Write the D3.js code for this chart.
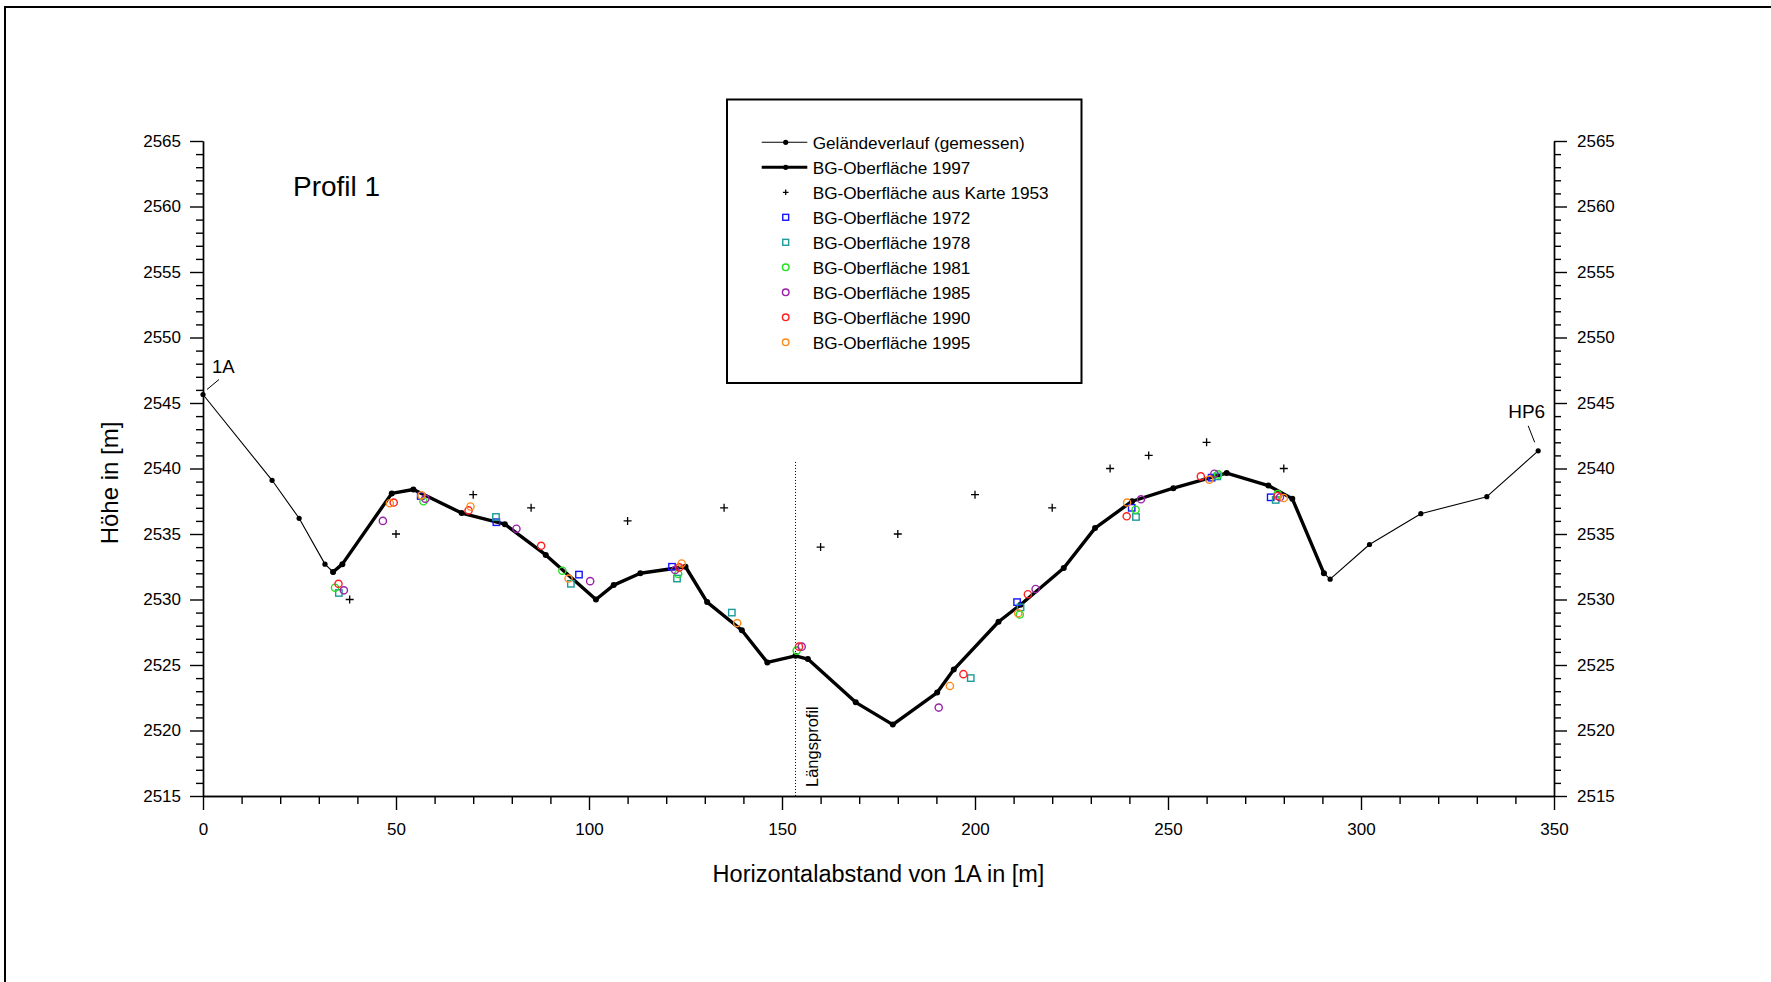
<!DOCTYPE html>
<html>
<head>
<meta charset="utf-8">
<script src="https://cdn.jsdelivr.net/npm/d3@7/dist/d3.min.js"></script>
<style>
  body { margin: 0; background: #fff; }
  svg text { font-family: "Liberation Sans", Arial, sans-serif; fill: #000; }
</style>
</head>
<body>
<svg id="chart"></svg>
<script>
// Geländeverlauf (gemessen), west and east of the glacier
const gelaendeWestX = [0, 17.9, 24.9, 31.6, 33.7];
const gelaendeWestY = [2545.65, 2539.1, 2536.2, 2532.7, 2532.1];
const gelaendeOstX = [290.4, 292.0, 302.2, 315.5, 332.6, 345.9];
const gelaendeOstY = [2532.0, 2531.55, 2534.2, 2536.55, 2537.85, 2541.35];

// BG-Oberfläche 1997
const bg1997X = [33.7, 36.1, 48.9, 54.5, 67.0, 78.2, 88.8, 101.8, 106.4, 113.3, 125.0, 130.6,
  139.6, 146.2, 153.5, 156.7, 169.1, 178.7, 190.2, 194.5, 206.1, 211.8, 223.0, 231.1, 240.7,
  251.4, 265.2, 276.0, 282.2, 290.4];
const bg1997Y = [2532.1, 2532.7, 2538.1, 2538.4, 2536.6, 2535.75, 2533.4, 2530.0, 2531.1, 2532.0,
  2532.5, 2529.8, 2527.65, 2525.2, 2525.7, 2525.45, 2522.15, 2520.45, 2522.9, 2524.65, 2528.3,
  2529.6, 2532.4, 2535.45, 2537.5, 2538.5, 2539.65, 2538.7, 2537.7, 2532.0];

const karte1953X = [38, 50, 70, 85, 110, 135, 160, 180, 200, 220, 235, 245, 260, 280];
const karte1953Y = [2530, 2535, 2538, 2537, 2536, 2537, 2534, 2535, 2538, 2537, 2540, 2541, 2542, 2540];

const bg1972X = [56.4, 76.0, 97.4, 121.5, 210.9, 240.6, 261.3, 276.6];
const bg1972Y = [2537.9, 2535.9, 2531.9, 2532.5, 2529.8, 2537.0, 2539.3, 2537.8];

const bg1978X = [35.2, 75.9, 95.3, 122.8, 137.0, 198.9, 211.8, 241.7, 262.8, 277.9];
const bg1978Y = [2530.5, 2536.3, 2531.2, 2531.6, 2529.0, 2524.0, 2529.4, 2536.3, 2539.4, 2537.6];

const bg1981X = [34.2, 57.1, 93.1, 123.1, 153.8, 211.6, 241.6, 263.0, 278.4];
const bg1981Y = [2530.9, 2537.5, 2532.2, 2531.95, 2526.1, 2528.85, 2536.85, 2539.55, 2538.05];

const bg1985X = [36.5, 46.6, 57.6, 81.2, 100.3, 122.3, 155.1, 190.6, 215.7, 243.0, 262.0, 279.0];
const bg1985Y = [2530.7, 2536.0, 2537.7, 2535.4, 2531.4, 2532.25, 2526.4, 2521.75, 2530.8, 2537.65, 2539.6, 2537.8];

const bg1990X = [35.1, 49.4, 68.8, 87.6, 123.4, 154.4, 197.0, 213.7, 239.3, 258.5, 278.4];
const bg1990Y = [2531.2, 2537.4, 2536.8, 2534.1, 2532.45, 2526.4, 2524.3, 2530.4, 2536.35, 2539.4, 2537.9];

const bg1995X = [48.4, 56.6, 69.3, 94.7, 124.0, 138.4, 193.5, 211.2, 239.4, 260.7, 280.0];
const bg1995Y = [2537.35, 2537.95, 2537.1, 2531.6, 2532.75, 2528.2, 2523.4, 2528.95, 2537.4, 2539.15, 2537.75];

const legendLabels = [
  "Geländeverlauf (gemessen)",
  "BG-Oberfläche 1997",
  "BG-Oberfläche aus Karte 1953",
  "BG-Oberfläche 1972",
  "BG-Oberfläche 1978",
  "BG-Oberfläche 1981",
  "BG-Oberfläche 1985",
  "BG-Oberfläche 1990",
  "BG-Oberfläche 1995"
];

const xTicks = [0, 50, 100, 150, 200, 250, 300, 350];
const yTicks = [2515, 2520, 2525, 2530, 2535, 2540, 2545, 2550, 2555, 2560, 2565];
const xDomain = [0, 350];
const yDomain = [2515, 2565];

// Längsprofil marker line
const laengsprofilX = 153.5;
const laengsprofilTop = 2540.5;

(function() {
  const svgWidth = 1771;
  const svgHeight = 982;
  const margin = { top: 141, right: 217, bottom: 186, left: 203 };

  const svg = d3.select("#chart").attr("width", svgWidth).attr("height", svgHeight);

  const x = d3.scaleLinear().domain(xDomain).range([margin.left, svgWidth - margin.right]);
  const y = d3.scaleLinear().domain(yDomain).range([svgHeight - margin.bottom, margin.top]);

  const zip = (xs, ys) => xs.map((d, i) => ({ x: d, y: ys[i] }));

  // outer frame (right and bottom edges lie outside the picture)
  svg.append("path")
    .attr("d", `M5,${svgHeight + 10}V7H${svgWidth + 10}`)
    .attr("fill", "none").attr("stroke", "#000").attr("stroke-width", 2);

  // axes
  const minorY = d3.range(yDomain[0], yDomain[1] + 1, 1).filter(v => v % 5 !== 0);
  const minorX = d3.range(xDomain[0], xDomain[1] + 1, 10).filter(v => v % 50 !== 0);

  const styleAxis = g => {
    g.selectAll("path, line").attr("stroke", "#000").attr("stroke-width", 1.4);
    g.selectAll("text").attr("font-size", "17px").attr("fill", "#000")
      .style("font-family", "'Liberation Sans', Arial, sans-serif");
  };

  const bottom = svgHeight - margin.bottom;
  const right = svgWidth - margin.right;

  svg.append("g").attr("transform", `translate(0,${bottom})`)
    .call(d3.axisBottom(x).tickValues(xTicks).tickFormat(d3.format("d")).tickSize(14).tickSizeOuter(0).tickPadding(13))
    .call(styleAxis);
  svg.append("g").attr("transform", `translate(0,${bottom})`)
    .call(d3.axisBottom(x).tickValues(minorX).tickFormat("").tickSize(8).tickSizeOuter(0))
    .call(styleAxis);

  svg.append("g").attr("transform", `translate(${margin.left},0)`)
    .call(d3.axisLeft(y).tickValues(yTicks).tickFormat(d3.format("d")).tickSize(13).tickSizeOuter(0).tickPadding(9))
    .call(styleAxis);
  svg.append("g").attr("transform", `translate(${margin.left},0)`)
    .call(d3.axisLeft(y).tickValues(minorY).tickFormat("").tickSize(7).tickSizeOuter(0))
    .call(styleAxis);

  svg.append("g").attr("transform", `translate(${right},0)`)
    .call(d3.axisRight(y).tickValues(yTicks).tickFormat(d3.format("d")).tickSize(13).tickSizeOuter(0).tickPadding(10))
    .call(styleAxis);
  svg.append("g").attr("transform", `translate(${right},0)`)
    .call(d3.axisRight(y).tickValues(minorY).tickFormat("").tickSize(7).tickSizeOuter(0))
    .call(styleAxis);

  // axis titles
  svg.append("text")
    .attr("x", (margin.left + right) / 2).attr("y", 882)
    .attr("text-anchor", "middle").attr("font-size", "23.5px")
    .text("Horizontalabstand von 1A in [m]");

  svg.append("text")
    .attr("transform", "translate(118,483) rotate(-90)")
    .attr("text-anchor", "middle").attr("font-size", "24px")
    .text("Höhe in [m]");

  svg.append("text")
    .attr("x", 293).attr("y", 196)
    .attr("font-size", "28px")
    .text("Profil 1");

  // Längsprofil
  svg.append("line")
    .attr("x1", x(laengsprofilX)).attr("x2", x(laengsprofilX))
    .attr("y1", y(laengsprofilTop)).attr("y2", bottom)
    .attr("stroke", "#000").attr("stroke-width", 1).attr("stroke-dasharray", "1,2");
  svg.append("text")
    .attr("transform", `translate(${x(laengsprofilX) + 22},${bottom - 9}) rotate(-90)`)
    .attr("font-size", "16.5px")
    .text("Längsprofil");

  // lines
  const line = d3.line().x(d => x(d.x)).y(d => y(d.y));

  const drawLine = (data, width, r) => {
    svg.append("path").datum(data)
      .attr("d", line).attr("fill", "none").attr("stroke", "#000")
      .attr("stroke-width", width).attr("stroke-linejoin", "round");
    svg.append("g").selectAll("circle").data(data).enter().append("circle")
      .attr("cx", d => x(d.x)).attr("cy", d => y(d.y)).attr("r", r).attr("fill", "#000");
  };

  const gelaendeWest = zip(gelaendeWestX, gelaendeWestY);
  const gelaendeOst = zip(gelaendeOstX, gelaendeOstY);
  drawLine(gelaendeWest, 1.1, 2.6);
  drawLine(gelaendeOst, 1.1, 2.6);
  drawLine(zip(bg1997X, bg1997Y), 3.4, 3);

  // point labels 1A / HP6
  const p1A = gelaendeWest[0];
  const pHP6 = gelaendeOst[gelaendeOst.length - 1];
  svg.append("line")
    .attr("x1", x(p1A.x) + 4).attr("y1", y(p1A.y) - 5)
    .attr("x2", x(p1A.x) + 16).attr("y2", y(p1A.y) - 15)
    .attr("stroke", "#000").attr("stroke-width", 1);
  svg.append("text")
    .attr("x", x(p1A.x) + 9).attr("y", y(p1A.y) - 21)
    .attr("font-size", "18.5px").text("1A");
  svg.append("line")
    .attr("x1", x(pHP6.x) - 10).attr("y1", y(pHP6.y) - 25)
    .attr("x2", x(pHP6.x) - 3.5).attr("y2", y(pHP6.y) - 8.5)
    .attr("stroke", "#000").attr("stroke-width", 1);
  svg.append("text")
    .attr("x", x(pHP6.x) + 7).attr("y", y(pHP6.y) - 33)
    .attr("text-anchor", "end")
    .attr("font-size", "19px").text("HP6");

  // scatter series
  const series = [
    { label: legendLabels[2], xs: karte1953X, ys: karte1953Y, shape: "plus", color: "#000" },
    { label: legendLabels[3], xs: bg1972X, ys: bg1972Y, shape: "square", color: "#1414ff" },
    { label: legendLabels[4], xs: bg1978X, ys: bg1978Y, shape: "square", color: "#1a9a9a" },
    { label: legendLabels[5], xs: bg1981X, ys: bg1981Y, shape: "circle", color: "#22e022" },
    { label: legendLabels[6], xs: bg1985X, ys: bg1985Y, shape: "circle", color: "#9a22a8" },
    { label: legendLabels[7], xs: bg1990X, ys: bg1990Y, shape: "circle", color: "#ff2020" },
    { label: legendLabels[8], xs: bg1995X, ys: bg1995Y, shape: "circle", color: "#ff8c1a" }
  ];

  function drawMarker(sel, shape, color, scale) {
    if (shape === "plus") {
      const h = 4 * scale;
      sel.append("path").attr("d", `M${-h},0H${h}M0,${-h}V${h}`)
        .attr("stroke", color).attr("stroke-width", 1.3).attr("fill", "none");
    } else if (shape === "square") {
      const h = 3.2 * scale;
      sel.append("rect").attr("x", -h).attr("y", -h).attr("width", 2 * h).attr("height", 2 * h)
        .attr("stroke", color).attr("stroke-width", 1.4).attr("fill", "none");
    } else {
      sel.append("circle").attr("r", 3.6 * scale)
        .attr("stroke", color).attr("stroke-width", 1.4).attr("fill", "none");
    }
  }

  series.forEach(s => {
    svg.append("g").selectAll("g").data(zip(s.xs, s.ys)).enter().append("g")
      .attr("transform", d => `translate(${x(d.x)},${y(d.y)})`)
      .each(function() { drawMarker(d3.select(this), s.shape, s.color, 1); });
  });

  // legend
  const legend = svg.append("g");
  legend.append("rect")
    .attr("x", 727).attr("y", 99.5).attr("width", 354.5).attr("height", 283.5)
    .attr("fill", "#fff").attr("stroke", "#000").attr("stroke-width", 2);

  const rowY = i => 142.3 + i * 25;
  const symX = 785.7;

  [1.1, 3].forEach((w, i) => {
    legend.append("line")
      .attr("x1", 761.7).attr("x2", 807.3).attr("y1", rowY(i)).attr("y2", rowY(i))
      .attr("stroke", "#000").attr("stroke-width", w);
    legend.append("circle").attr("cx", symX).attr("cy", rowY(i)).attr("r", 2.6).attr("fill", "#000");
  });

  series.forEach((s, i) => {
    const g = legend.append("g").attr("transform", `translate(${symX},${rowY(i + 2)})`);
    drawMarker(g, s.shape, s.color, s.shape === "plus" ? 0.7 : 0.92);
  });

  legend.selectAll("text.lbl").data(legendLabels).enter().append("text")
    .attr("class", "lbl")
    .attr("x", 812.7).attr("y", (d, i) => rowY(i) + 6.5)
    .attr("font-size", "17.2px")
    .text(d => d);
})();
</script>
</body>
</html>
